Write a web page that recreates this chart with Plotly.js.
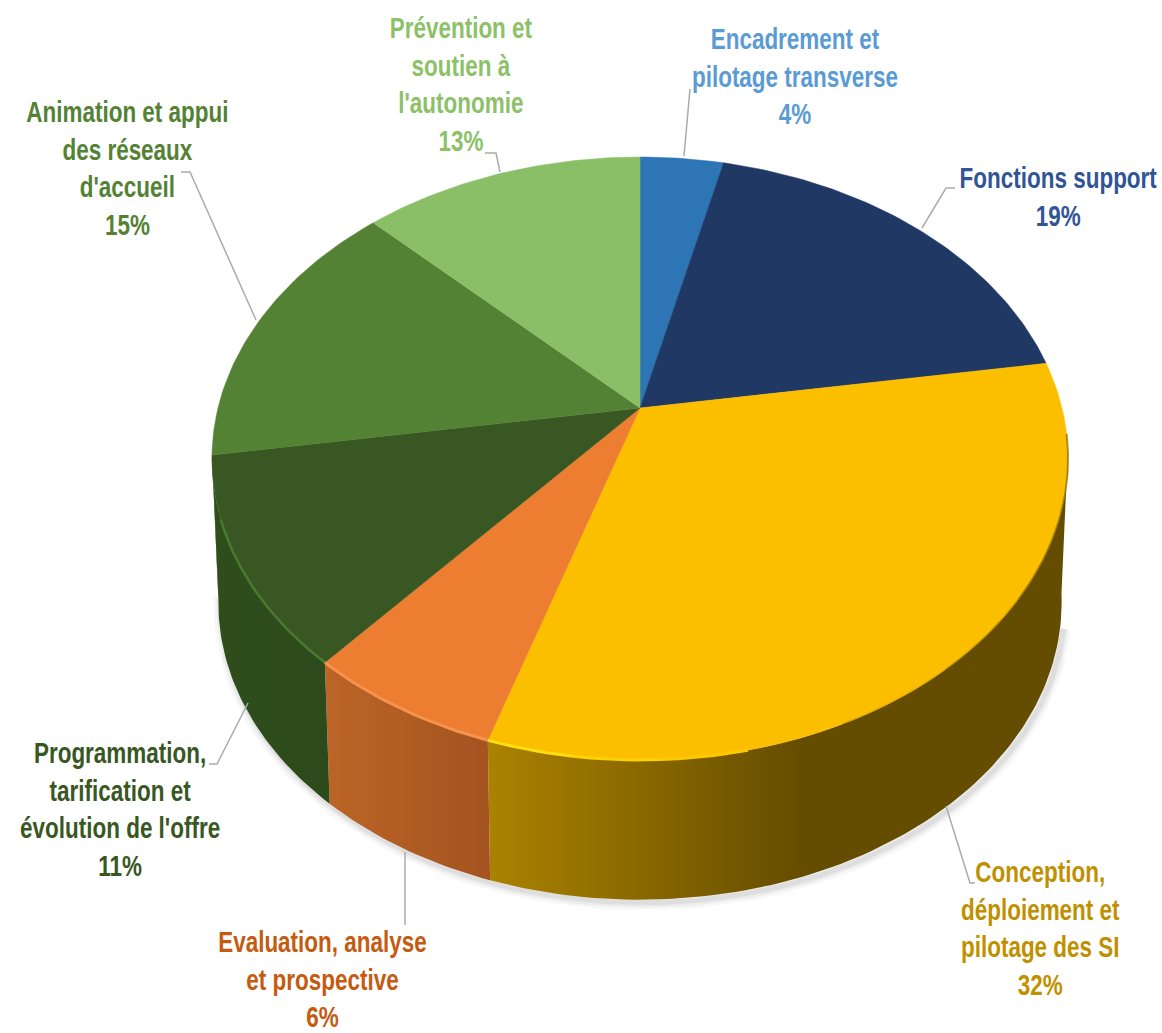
<!DOCTYPE html>
<html>
<head>
<meta charset="utf-8">
<script src="https://cdn.plot.ly/plotly-3.0.1.min.js"></script>
<style>html,body{margin:0;padding:0;background:#fff}#chart{width:1162px;height:1033px}</style>
</head>
<body>
<div id="chart"></div>
<script>
const categories = ["Encadrement et<br>pilotage transverse","Fonctions support","Conception,<br>déploiement et<br>pilotage des SI","Evaluation, analyse<br>et prospective","Programmation,<br>tarification et<br>évolution de l'offre","Animation et appui<br>des réseaux<br>d'accueil","Prévention et<br>soutien à<br>l'autonomie"];
const values = [3.7,18.8,32.4,6.4,11.2,15.0,12.5];
const topColors = ["#2e75b6","#1f3864","#fbbf00","#ed7d31","#385723","#548235","#8bbf67"];
const textColors = ["#5b9bd5","#2f5597","#bf9000","#c55a11","#385723","#548235","#8cc168"];
const wallLeft = ["#2e75b6","#1f3864","#ab8200","#bb6526","#2f4e1c","#3c6324","#6f9a50"];
const wallRight = ["#2e75b6","#1f3864","#644c00","#a45320","#2c4a1b","#3c6324","#6f9a50"];
const wallStop = [1,1,0.55,1,1,1,1];

const labelX = [795,1058,1040,322,120,127,461];
const labelY = [76,197,928,979,809,168,84];
const leaderPaths = ["M684,156 L690,89","M922,228 L946,188 L955,188","M946,806 L970,883 L975,883","M405,852 L405,925","M248,703 L217,764 L209,764","M256,320 L190,172 L181,172","M500,172 L496,153 L485,153"];
const textSqueeze = 0.775;

const cx=640, cy=408, A=422, B=293, P=0.1675;
const floorDy=145, floorScale=0.985;
const silhouette=[98,262];
function topPt(t){const r=t*Math.PI/180,X=Math.sin(r),Y=Math.cos(r),w=1+P*Y;return [cx+A*X/w, cy-B*Y/w];}
function bottomPt(t){const p=topPt(t);return [cx+(p[0]-cx)*floorScale, cy+floorDy+(p[1]-cy)*floorScale];}
function arc(fn,a,b){const n=Math.max(2,Math.ceil(Math.abs(b-a))),o=[];for(let i=0;i<=n;i++)o.push(fn(a+(b-a)*i/n));return o;}
const total=values.reduce((s,v)=>s+v,0);
let acc=0; const spans=values.map(v=>{const s=[acc/total*360,(acc+v)/total*360];acc+=v;return s;});
const base={type:'scatter',mode:'lines',hoverinfo:'skip',showlegend:false,cliponaxis:false};
const traces=[];

// soft shadow hugging the floor rim
[[16,'rgba(0,0,0,0.03)'],[10,'rgba(0,0,0,0.045)'],[5,'rgba(0,0,0,0.06)']].forEach(s=>{
  const p=arc(bottomPt,silhouette[0]+6,silhouette[1]);
  traces.push({...base,x:p.map(q=>q[0]+3),y:p.map(q=>q[1]+3),line:{color:s[1],width:s[0]}});
});
// walls, only on the visible front part
values.forEach((v,i)=>{
  const a=Math.max(spans[i][0],silhouette[0]), b=Math.min(spans[i][1],silhouette[1]);
  if(b<=a) return;
  const p=arc(topPt,a,b).concat(arc(bottomPt,b,a));
  p.push(p[0]);
  traces.push({...base,x:p.map(q=>q[0]),y:p.map(q=>q[1]),line:{width:0},fill:'toself',
    fillgradient:{type:'horizontal',colorscale:wallStop[i]<1?[[0,wallLeft[i]],[wallStop[i],wallRight[i]],[1,wallRight[i]]]:[[0,wallLeft[i]],[1,wallRight[i]]]}});
});
// top faces
values.forEach((v,i)=>{
  const [a,b]=spans[i];
  const p=[[cx,cy]].concat(arc(topPt,a,b));
  p.push([cx,cy]);
  traces.push({...base,name:categories[i],x:p.map(q=>q[0]),y:p.map(q=>q[1]),line:{color:topColors[i],width:0.5},fill:'toself',fillcolor:topColors[i]});
});
// bevel on the front rim
const s2=spans[2];
const rims=[
  [spans[4][0],spans[4][1]-12,'#4a7a30',2.5],
  [spans[3][0],spans[3][1],'#f5934e',3],
  [s2[1]-10,s2[1],'#ffdd10',3],
  [s2[1]-20,s2[1]-10,'#fdd205',3],
  [s2[1]-30,s2[1]-20,'#fcc902',3],
  [s2[0]+14,s2[0]+45,'rgba(110,84,0,0.55)',2],
  [s2[0]+45,s2[0]+60,'rgba(110,84,0,0.35)',2],
  [s2[0]+60,s2[0]+75,'rgba(110,84,0,0.18)',2]
];
rims.forEach(r=>{
  const p=arc(topPt,r[0],r[1]);
  traces.push({...base,x:p.map(q=>q[0]),y:p.map(q=>q[1]),line:{color:r[2],width:r[3]}});
});

const annotations=categories.map((c,i)=>({
  x:labelX[i],y:labelY[i],xref:'x',yref:'y',xanchor:'center',yanchor:'middle',align:'center',showarrow:false,
  text:'<b>'+c+'<br>'+Math.round(values[i])+'%</b>',
  font:{family:'"Liberation Sans",Arial,sans-serif',size:29,color:textColors[i]}
}));
const shapes=leaderPaths.map(d=>({type:'path',path:d,xref:'x',yref:'y',line:{color:'#ababab',width:1.5}}));

Plotly.newPlot('chart',traces,{
  width:1162,height:1033,margin:{l:0,r:0,t:0,b:0},paper_bgcolor:'#fff',plot_bgcolor:'#fff',showlegend:false,
  xaxis:{range:[0,1162],visible:false,fixedrange:true},
  yaxis:{range:[1033,0],visible:false,fixedrange:true},
  annotations,shapes
},{displayModeBar:false,staticPlot:true}).then(()=>{
  // the reference's labels are horizontally condensed
  document.querySelectorAll('#chart .annotation').forEach(g=>{
    const i=+g.getAttribute('data-index');
    g.setAttribute('transform','translate('+labelX[i]+' 0) scale('+textSqueeze+' 1) translate('+(-labelX[i])+' 0)');
  });
});
</script>
</body>
</html>
